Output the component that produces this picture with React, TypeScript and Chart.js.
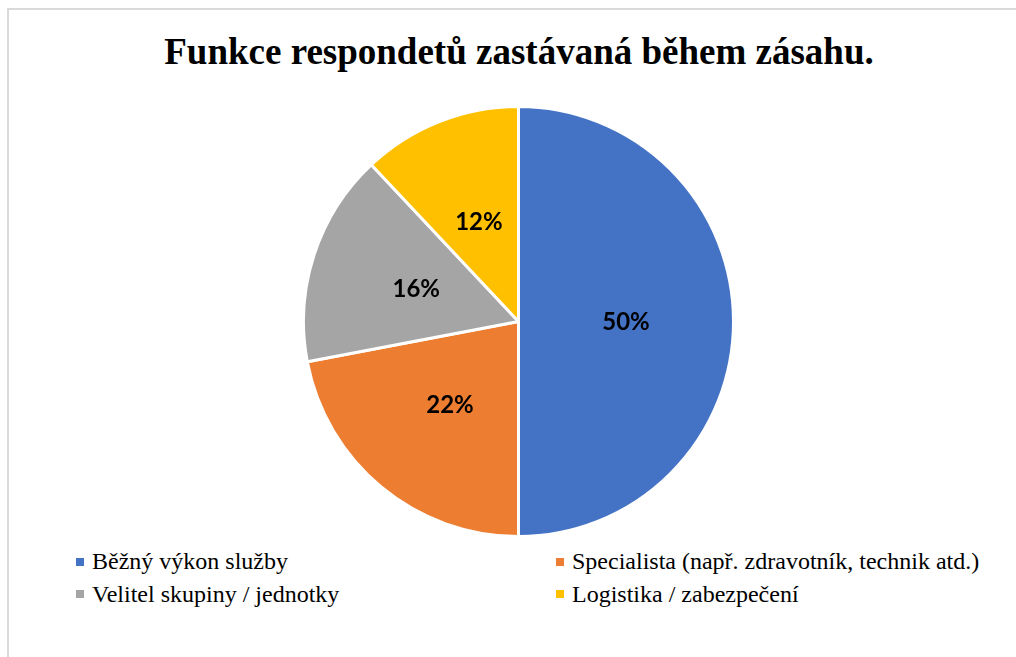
import React, { useEffect, useRef } from "react";
import { Chart, registerables } from "chart.js";

Chart.register(...registerables);

const TITLE = "Funkce respondetů zastávaná během zásahu.";
const categories = [
  "Běžný výkon služby",
  "Specialista (např. zdravotník, technik atd.)",
  "Velitel skupiny / jednotky",
  "Logistika / zabezpečení",
];
const values = [50, 22, 16, 12];
const colors = ["#4472C4", "#ED7D31", "#A5A5A5", "#FFC000"];
// legend grid order: row-major as in the reference
const legendOrder = [0, 1, 2, 3];

const labelPlugin = {
  id: "pctLabels",
  afterDatasetsDraw(chart: any) {
    const ctx = chart.ctx;
    const meta = chart.getDatasetMeta(0);
    const data = chart.data.datasets[0].data as number[];
    ctx.save();
    ctx.font = "bold 24px Lato, 'Open Sans', sans-serif";
    ctx.fillStyle = "#000000";
    ctx.textAlign = "center";
    ctx.textBaseline = "middle";
    meta.data.forEach((arc: any, i: number) => {
      const p = arc.tooltipPosition();
      ctx.fillText(`${data[i]}%`, p.x, p.y + 1);
    });
    ctx.restore();
  },
};

export default function App() {
  const ref = useRef<HTMLCanvasElement | null>(null);

  useEffect(() => {
    if (!ref.current) return;
    const chart = new Chart(ref.current, {
      type: "pie",
      data: {
        labels: categories,
        datasets: [
          {
            data: values,
            backgroundColor: colors,
            borderColor: "#ffffff",
            borderWidth: 3,
          },
        ],
      },
      options: {
        animation: false,
        responsive: false,
        maintainAspectRatio: false,
        layout: { padding: 0 },
        plugins: {
          legend: { display: false },
          title: { display: false },
          tooltip: { enabled: false },
        },
      },
      plugins: [labelPlugin],
    });
    return () => chart.destroy();
  }, []);

  const cols = [76, 556];
  const rows = [549, 581.5];

  return (
    <div
      style={{
        position: "fixed",
        left: 0,
        top: 0,
        width: 1016,
        height: 657,
        overflow: "hidden",
        background: "#ffffff",
      }}
    >
      <div
        style={{
          position: "absolute",
          left: 7,
          top: 8,
          width: 1100,
          height: 700,
          border: "2px solid #d9d9d9",
          boxSizing: "border-box",
        }}
      />
      <div
        style={{
          position: "absolute",
          left: 0,
          top: 33,
          width: 1038,
          textAlign: "center",
          fontFamily: "'Liberation Serif', 'Times New Roman', serif",
          fontWeight: "bold",
          fontSize: 37,
          lineHeight: "38px",
          color: "#000",
          whiteSpace: "nowrap",
        }}
      >
        {TITLE}
      </div>
      <canvas
        ref={ref}
        width={433}
        height={433}
        style={{
          position: "absolute",
          left: 301.5,
          top: 105,
          width: 433,
          height: 433,
        }}
      />
      {legendOrder.map((idx, k) => {
        const x = cols[k % 2];
        const y = rows[Math.floor(k / 2)];
        return (
          <div
            key={idx}
            style={{
              position: "absolute",
              left: x,
              top: y,
              height: 24,
              display: "flex",
              alignItems: "center",
              whiteSpace: "nowrap",
            }}
          >
            <span
              style={{
                display: "inline-block",
                width: 8,
                height: 8,
                background: colors[idx],
                marginRight: 8,
                marginTop: 1,
              }}
            />
            <span
              style={{
                fontFamily: "'Liberation Serif', 'Times New Roman', serif",
                fontSize: 24,
                lineHeight: "24px",
                color: "#000",
              }}
            >
              {categories[idx]}
            </span>
          </div>
        );
      })}
    </div>
  );
}
